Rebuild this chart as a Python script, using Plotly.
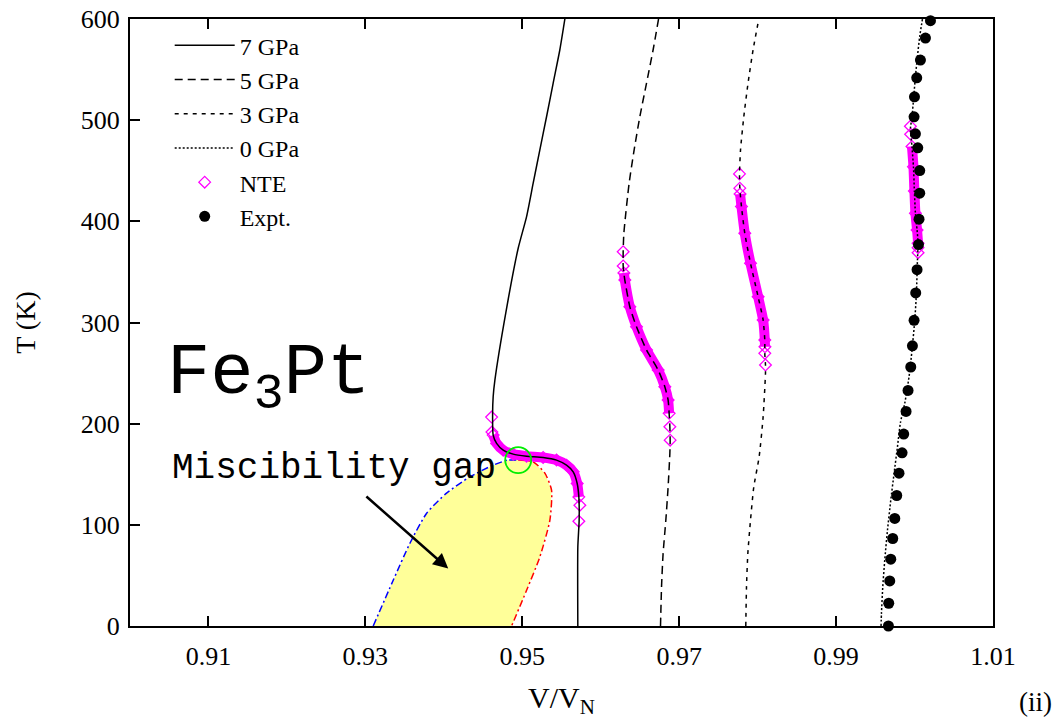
import plotly.graph_objects as go

# ---------------- data ----------------
# 7 GPa curve
t_7gpa = [0, 77.9, 104.6, 127.6, 140.9, 152.4, 159, 164, 166.6, 167.9, 169.9, 173.8, 180.5,
          188.7, 210.5, 226.6, 243, 310, 373.4, 404.7, 437.7, 470.7, 503.6, 536.7, 569.6, 600]
v_7gpa = [0.95708, 0.95708, 0.95725, 0.95721, 0.95700, 0.95649, 0.95564, 0.95437, 0.95266,
          0.95055, 0.94884, 0.94757, 0.94673, 0.94629, 0.94622, 0.94629, 0.94651, 0.94791,
          0.94948, 0.95055, 0.95139, 0.95224, 0.95310, 0.95394, 0.95479, 0.95543]
# 5 GPa curve
t_5gpa = [0, 38.6, 71.6, 104.6, 137.5, 170.6, 183.7, 196.9, 210.2, 223.3, 236.5, 253, 272.8,
          295.8, 315.6, 342, 349, 355.9, 370, 388.3, 437.7, 470.7, 503.6, 536.7, 569.6, 600]
v_5gpa = [0.96762, 0.96775, 0.96795, 0.96830, 0.96859, 0.96881, 0.96885, 0.96881, 0.96872,
          0.96859, 0.96817, 0.96732, 0.96584, 0.96456, 0.96371, 0.96307, 0.96295, 0.96286,
          0.96286, 0.96295, 0.96362, 0.96426, 0.96499, 0.96584, 0.96668, 0.96737]
# 3 GPa curve
t_3gpa = [0, 38.6, 71.6, 104.6, 137.5, 167.2, 206.8, 249.7, 258, 269.5, 282.7, 302.5, 325.5,
          358.6, 388.3, 414.6, 432.8, 446.9, 470.7, 503.6, 536.7, 569.6, 600]
v_3gpa = [0.97849, 0.97858, 0.97875, 0.97909, 0.97951, 0.98019, 0.98070, 0.98100, 0.98100,
          0.98091, 0.98091, 0.98070, 0.98006, 0.97909, 0.97836, 0.97794, 0.97773, 0.97769,
          0.97782, 0.97824, 0.97878, 0.97942, 0.98015]
# 0 GPa curve
t_0gpa = [0, 12.3, 38.6, 65, 94.7, 124.4, 150.8, 177, 201, 220, 246.4, 272.8, 302.5, 329,
          361.8, 378.4, 391.5, 408, 430, 454, 474, 492, 503.6, 523.4, 543, 563, 582.8, 600]
v_0gpa = [0.99573, 0.99578, 0.99595, 0.99620, 0.99655, 0.99697, 0.99739, 0.99782, 0.99820,
          0.99875, 0.99930, 0.99968, 1.00003, 1.00024, 1.00037, 1.00045, 1.00032, 1.00011,
          0.99998, 0.99986, 0.99967, 0.99948, 0.99968, 0.99990, 1.00011, 1.00037, 1.00066,
          1.00101]

# NTE (negative thermal expansion) points on each curve
nte_t_7 = [206.5, 191.7, 188.7, 180.5, 173.8, 169.9, 167.9, 166.6, 164, 159, 152.4, 140.9,
           127.6, 119.4, 103.6]
nte_v_7 = [0.94609, 0.94613, 0.94629, 0.94673, 0.94757, 0.94884, 0.95055, 0.95266, 0.95437,
           0.95564, 0.95649, 0.95700, 0.95721, 0.95734, 0.95721]
nte_t_5 = [370, 355.9, 349, 342, 315.6, 295.8, 272.8, 253, 236.5, 223.3, 210.2, 196.9, 183.7]
nte_v_5 = [0.96286, 0.96286, 0.96295, 0.96307, 0.96371, 0.96456, 0.96584, 0.96732, 0.96817,
           0.96859, 0.96872, 0.96881, 0.96885]
nte_t_3 = [446.9, 432.8, 427, 414.6, 388.3, 358.6, 325.5, 302.5, 282.7, 276, 269.5, 258]
nte_v_3 = [0.97769, 0.97773, 0.97776, 0.97794, 0.97836, 0.97909, 0.98006, 0.98070, 0.98091,
           0.98093, 0.98091, 0.98100]
nte_t_0 = [494, 486, 474, 454, 430, 408, 391.5, 378.4, 374, 369]
nte_v_0 = [0.99947, 0.99950, 0.99967, 0.99986, 0.99998, 1.00011, 1.00032, 1.00045, 1.00045,
           1.00045]

# Experimental points
expt_t = [0, 22.5, 44.5, 66.0, 86.5, 106.3, 129.0, 151.1, 171.2, 189.7, 212.1, 232.9, 256.0,
          277.0, 302.2, 329.2, 352.2, 377.0, 402.1, 427.8, 450.2, 472.7, 486.5, 503.3, 523.1,
          541.9, 559.4, 581.2, 598.3]
expt_v = [0.99667, 0.99671, 0.99684, 0.99697, 0.99722, 0.99748, 0.99773, 0.99802, 0.99841,
          0.99862, 0.99892, 0.99917, 0.99952, 0.99973, 0.99994, 1.00015, 1.00032, 1.00050,
          1.00057, 1.00066, 1.00066, 1.00041, 1.00011, 0.99994, 0.99999, 1.00028, 1.00075,
          1.00139, 1.00203]

# Miscibility gap boundaries (blue: left branch, red: right branch) and critical point
gap_left_t = [0, 45.2, 81.8, 111.5, 131.3, 147.4, 159, 164, 164]
gap_left_v = [0.93100, 0.93355, 0.93568, 0.93781, 0.94035, 0.94332, 0.94629, 0.94817, 0.94948]
gap_right_t = [164, 162.3, 151.1, 134.3, 104.6, 68.3, 35.3, 0]
gap_right_v = [0.94948, 0.95139, 0.95288, 0.95373, 0.95352, 0.95224, 0.95055, 0.94864]
crit_v = [0.94948]
crit_t = [164]

x_ticks = [0.91, 0.93, 0.95, 0.97, 0.99, 1.01]
y_ticks = [0, 100, 200, 300, 400, 500, 600]

# ---------------- figure ----------------
SERIF = "Liberation Serif, Times New Roman, serif"
MONO = "Liberation Mono, Courier New, monospace"
MAGENTA = "#ff00ff"

fig = go.Figure()

# yellow miscibility-gap region
fig.add_trace(go.Scatter(x=gap_left_v + gap_right_v, y=gap_left_t + gap_right_t,
                         mode="lines", fill="toself", fillcolor="#ffff99",
                         line=dict(width=0, color="#ffff99"), showlegend=False,
                         hoverinfo="skip"))
fig.add_trace(go.Scatter(x=gap_left_v, y=gap_left_t, mode="lines",
                         line=dict(color="#0000ff", width=1.5, dash="7px,3px,2px,3px",
                                   shape="spline", smoothing=0.6),
                         showlegend=False, hoverinfo="skip"))
fig.add_trace(go.Scatter(x=gap_right_v, y=gap_right_t, mode="lines",
                         line=dict(color="#ff0000", width=1.5, dash="7px,3px,2px,3px",
                                   shape="spline", smoothing=0.6),
                         showlegend=False, hoverinfo="skip"))

# dense NTE band (overlapping diamonds)
for tv, vv in [(nte_t_7, nte_v_7), (nte_t_5, nte_v_5), (nte_t_3, nte_v_3), (nte_t_0, nte_v_0)]:
    fig.add_trace(go.Scatter(x=vv[2:-2], y=tv[2:-2], mode="lines",
                             line=dict(color=MAGENTA, width=10, shape="spline", smoothing=0.6),
                             showlegend=False, hoverinfo="skip"))

nte_all_v = nte_v_7 + [None] + nte_v_5 + [None] + nte_v_3 + [None] + nte_v_0
nte_all_t = nte_t_7 + [None] + nte_t_5 + [None] + nte_t_3 + [None] + nte_t_0
fig.add_trace(go.Scatter(x=nte_all_v, y=nte_all_t, mode="markers", name="NTE",
                         marker=dict(symbol="diamond-open", size=9, color=MAGENTA,
                                     line=dict(width=1.3, color=MAGENTA)),
                         legendrank=5))

curves = [
    ("7 GPa", v_7gpa, t_7gpa, "solid", 1),
    ("5 GPa", v_5gpa, t_5gpa, "8px,5px", 2),
    ("3 GPa", v_3gpa, t_3gpa, "4px,5px", 3),
    ("0 GPa", v_0gpa, t_0gpa, "2px,2px", 4),
]
for name, vv, tv, dash, rank in curves:
    fig.add_trace(go.Scatter(x=vv, y=tv, mode="lines", name=name,
                             line=dict(color="black", width=1.5, dash=dash,
                                       shape="spline", smoothing=0.6),
                             legendrank=rank))

fig.add_trace(go.Scatter(x=expt_v, y=expt_t, mode="markers", name="Expt.",
                         marker=dict(symbol="circle", size=11, color="black"),
                         cliponaxis=False, legendrank=6))

fig.add_trace(go.Scatter(x=crit_v, y=crit_t, mode="markers", showlegend=False,
                         marker=dict(symbol="circle-open", size=26, color="#00ee00",
                                     line=dict(width=1.8, color="#00ee00")),
                         hoverinfo="skip"))

# The page body adds an 8 px offset; the figure is sized so the plot area
# lands at x 130..993, y 19..626 of the 1064x727 window without overflowing it.
fig.update_layout(
    width=1048, height=711,
    margin=dict(l=122, r=63, t=11, b=93, autoexpand=False),
    paper_bgcolor="white", plot_bgcolor="white",
    font=dict(family=SERIF, color="black", size=26),
    legend=dict(x=0.046, y=0.993, xanchor="left", yanchor="top",
                bgcolor="rgba(0,0,0,0)", font=dict(family=SERIF, size=24),
                itemwidth=60, tracegroupgap=0),
    xaxis=dict(range=[0.90, 1.01], tickvals=x_ticks, ticktext=[f"{v:.2f}" for v in x_ticks],
               ticks="inside", ticklen=10, tickwidth=1.5, tickcolor="black",
               showline=True, linecolor="black", linewidth=2, mirror="ticks",
               showgrid=False, zeroline=False, ticklabelstandoff=6,
               ticklabeloverflow="allow",
               tickfont=dict(family=SERIF, size=26),
               title=dict(text="V/V<sub>N</sub>", font=dict(family=SERIF, size=30), standoff=17)),
    yaxis=dict(range=[0, 600], tickvals=y_ticks,
               ticks="inside", ticklen=10, tickwidth=1.5, tickcolor="black",
               showline=True, linecolor="black", linewidth=2, mirror=True,
               showgrid=False, zeroline=False, ticklabelstandoff=3,
               ticklabeloverflow="allow",
               tickfont=dict(family=SERIF, size=26),
               title=dict(text="T (K)", font=dict(family=SERIF, size=28), standoff=37)),
    annotations=[
        dict(x=0.94056, y=56.8, ax=0.92994, ay=129.3, xref="x", yref="y",
             axref="x", ayref="y", text="", showarrow=True, arrowhead=2,
             arrowsize=1.2, arrowwidth=2.5, arrowcolor="black"),
        dict(x=0.9051, y=156, xref="x", yref="y", text="Miscibility gap",
             xanchor="left", yanchor="middle", showarrow=False,
             font=dict(family=MONO, size=36, color="black")),
        dict(x=0.90446, y=245, xref="x", yref="y", text="Fe<sub>3</sub>Pt",
             xanchor="left", yanchor="middle", showarrow=False,
             font=dict(family=MONO, size=72, color="black")),
        dict(x=1.049, y=-0.126, xref="paper", yref="paper", text="(ii)",
             xanchor="center", yanchor="middle", showarrow=False,
             font=dict(family=SERIF, size=27, color="black")),
    ],
)

fig.write_html("out.html")
